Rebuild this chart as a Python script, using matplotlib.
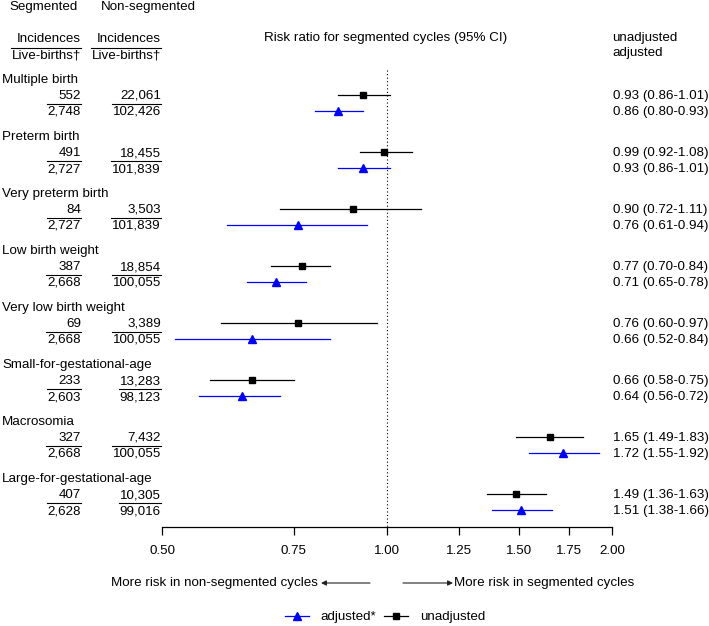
import matplotlib
matplotlib.use('Agg')
import matplotlib.pyplot as plt
from matplotlib.lines import Line2D
from matplotlib.ticker import NullLocator, FixedLocator, FixedFormatter

plt.rcParams['font.family'] = ['Liberation Sans', 'DejaVu Sans']
plt.rcParams['font.size'] = 9.6

outcomes = ["Multiple birth", "Preterm birth", "Very preterm birth", "Low birth weight",
            "Very low birth weight", "Small-for-gestational-age", "Macrosomia",
            "Large-for-gestational-age"]
seg_inc = ["552", "491", "84", "387", "69", "233", "327", "407"]
seg_live = ["2,748", "2,727", "2,727", "2,668", "2,668", "2,603", "2,668", "2,628"]
non_inc = ["22,061", "18,455", "3,503", "18,854", "3,389", "13,283", "7,432", "10,305"]
non_live = ["102,426", "101,839", "101,839", "100,055", "100,055", "98,123", "100,055", "99,016"]

unadj_rr = [0.93, 0.99, 0.90, 0.77, 0.76, 0.66, 1.65, 1.49]
unadj_lo = [0.86, 0.92, 0.72, 0.70, 0.60, 0.58, 1.49, 1.36]
unadj_hi = [1.01, 1.08, 1.11, 0.84, 0.97, 0.75, 1.83, 1.63]
adj_rr = [0.86, 0.93, 0.76, 0.71, 0.66, 0.64, 1.72, 1.51]
adj_lo = [0.80, 0.86, 0.61, 0.65, 0.52, 0.56, 1.55, 1.38]
adj_hi = [0.93, 1.01, 0.94, 0.78, 0.84, 0.72, 1.92, 1.66]

ticks = [0.50, 0.75, 1.00, 1.25, 1.50, 1.75, 2.00]
tick_labels = ["0.50", "0.75", "1.00", "1.25", "1.50", "1.75", "2.00"]

W, H = 709, 626
fig = plt.figure(figsize=(W / 100, H / 100), dpi=100)


def fx(px):
    return px / W


def fy(py):
    return 1 - py / H


ax = fig.add_axes([fx(162), fy(527), (612 - 162) / W, (527 - 60) / H])
ax.set_xscale('log')
ax.set_xlim(0.5, 2.0)
ax.set_ylim(527, 60)
for s in ['top', 'right', 'left']:
    ax.spines[s].set_visible(False)
ax.spines['bottom'].set_linewidth(0.9)
ax.set_yticks([])
ax.xaxis.set_major_locator(FixedLocator(ticks))
ax.xaxis.set_major_formatter(FixedFormatter(tick_labels))
ax.xaxis.set_minor_locator(NullLocator())
ax.tick_params(axis='x', direction='out', length=6, width=0.9, pad=7, labelsize=9.6)
ax.plot([1, 1], [70, 527], ls=(0, (1.0, 2.2)), color='black', lw=0.8, clip_on=False)

BLUE = '#0000ff'
frac_pairs = []

# header
fig.text(fx(9), fy(7), "Segmented", va='center', ha='left')
fig.text(fx(101), fy(7), "Non-segmented", va='center', ha='left')
for xr in (81, 161):
    fig.text(fx(xr), fy(39), "Incidences", va='center', ha='right')
    t2 = fig.text(fx(xr), fy(55), "Live-births\u2020", va='center', ha='right')
    frac_pairs.append((t2, 47.5))
fig.text(fx(386), fy(38), "Risk ratio for segmented cycles (95% CI)", va='center', ha='center')
fig.text(fx(612), fy(38), "unadjusted", va='center', ha='left')
fig.text(fx(612), fy(53), "adjusted", va='center', ha='left')

for i, name in enumerate(outcomes):
    gy = 80 + 57 * i
    y1 = gy + 16
    y2 = gy + 32
    fig.text(fx(2), fy(gy), name, va='center', ha='left')
    fig.text(fx(81), fy(y1), seg_inc[i], va='center', ha='right')
    d1 = fig.text(fx(81), fy(y2), seg_live[i], va='center', ha='right')
    fig.text(fx(161), fy(y1), non_inc[i], va='center', ha='right')
    d2 = fig.text(fx(161), fy(y2), non_live[i], va='center', ha='right')
    frac_pairs.append((d1, gy + 24))
    frac_pairs.append((d2, gy + 24))

    ax.plot([unadj_lo[i], unadj_hi[i]], [y1 - 1, y1 - 1], color='black', lw=0.9)
    ax.plot([unadj_rr[i]], [y1 - 1], marker='s', color='black', ms=4.6, ls='none')
    ax.plot([adj_lo[i], adj_hi[i]], [y2 - 1, y2 - 1], color=BLUE, lw=0.9)
    ax.plot([adj_rr[i]], [y2 - 1], marker='^', color=BLUE, ms=5.5, ls='none')

    fig.text(fx(613), fy(y1), f"{unadj_rr[i]:.2f} ({unadj_lo[i]:.2f}-{unadj_hi[i]:.2f})",
             va='center', ha='left')
    fig.text(fx(613), fy(y2), f"{adj_rr[i]:.2f} ({adj_lo[i]:.2f}-{adj_hi[i]:.2f})",
             va='center', ha='left')

# fraction lines sized to denominators
fig.canvas.draw()
renderer = fig.canvas.get_renderer()
for t, ly in frac_pairs:
    bb = t.get_window_extent(renderer)
    fig.add_artist(Line2D([fx(bb.x0 - 1), fx(bb.x1)], [fy(ly), fy(ly)],
                          transform=fig.transFigure, color='black', lw=0.8))

# direction arrows
fig.text(fx(318), fy(583), "More risk in non-segmented cycles", va='center', ha='right')
fig.text(fx(454), fy(583), "More risk in segmented cycles", va='center', ha='left')
arrow_kw = dict(arrowstyle='-|>,head_length=0.5,head_width=0.25', color='#222222', lw=0.8,
                shrinkA=0, shrinkB=0, mutation_scale=6)
ax.annotate('', xy=(fx(321), fy(583)), xytext=(fx(370), fy(583)),
            xycoords='figure fraction', textcoords='figure fraction', arrowprops=arrow_kw)
ax.annotate('', xy=(fx(453), fy(583)), xytext=(fx(403), fy(583)),
            xycoords='figure fraction', textcoords='figure fraction', arrowprops=arrow_kw)

handles = [Line2D([], [], color=BLUE, marker='^', ms=5.5, lw=0.9),
           Line2D([], [], color='black', marker='s', ms=4.6, lw=0.9)]
fig.legend(handles=handles, labels=['adjusted*', 'unadjusted'], loc='center',
           bbox_to_anchor=(fx(385), fy(617)), ncol=2, frameon=False,
           handlelength=1.8, columnspacing=0.6, handletextpad=0.9, fontsize=9.6)

fig.savefig('out.png', dpi=100)
